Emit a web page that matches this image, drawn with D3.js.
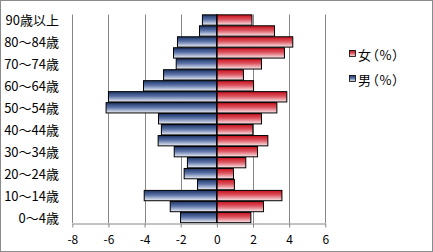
<!DOCTYPE html>
<html>
<head>
<meta charset="utf-8">
<script src="https://cdn.jsdelivr.net/npm/d3@7"></script>
<style>
  html, body { margin: 0; padding: 0; background: #fff; }
  svg { display: block; }
  text { font-family: "Noto Sans CJK JP", "Noto Sans", sans-serif; fill: #000; }
</style>
</head>
<body>
<svg id="chart" width="433" height="252"></svg>
<script>
// age groups, bottom to top
var ages = ['0〜4歳', '5〜9歳', '10〜14歳', '15〜19歳', '20〜24歳', '25〜29歳',
    '30〜34歳', '35〜39歳', '40〜44歳', '45〜49歳', '50〜54歳', '55〜59歳',
    '60〜64歳', '65〜69歳', '70〜74歳', '75〜79歳', '80〜84歳', '85〜89歳', '90歳以上'];

// 男 (%) drawn as negative values
var male = [-2.01, -2.58, -4.02, -1.07, -1.81, -1.63, -2.36, -3.25, -3.07, -3.23,
    -6.13, -6.0, -4.06, -2.95, -2.25, -2.40, -2.18, -0.96, -0.80];
// 女 (%)
var female = [1.88, 2.58, 3.6, 0.97, 0.92, 1.60, 2.25, 2.82, 1.99, 2.47,
    3.32, 3.87, 2.03, 1.47, 2.47, 3.74, 4.2, 3.19, 1.94];

var xTicks = [-8, -6, -4, -2, 0, 2, 4, 6];
var legendItems = ['女（%）', '男（%）'];

var svg = d3.select('#chart');
var W = 433, H = 252;
var plot = { left: 72.3, right: 325.3, top: 14.5, bottom: 223 };

// outer frame
svg.append('rect')
    .attr('x', 0.5).attr('y', 0.5)
    .attr('width', W - 1).attr('height', H - 1)
    .attr('fill', '#fff').attr('stroke', '#8c8c8c');

// gradients: dark on top, fading towards the bottom
var defs = svg.append('defs');
function grad(id, dark, mid, light) {
    var g = defs.append('linearGradient').attr('id', id)
        .attr('x1', 0).attr('y1', 0).attr('x2', 0).attr('y2', 1);
    g.append('stop').attr('offset', '0%').attr('stop-color', dark);
    g.append('stop').attr('offset', '45%').attr('stop-color', mid);
    g.append('stop').attr('offset', '100%').attr('stop-color', light);
}
grad('gMale', '#1c3466', '#5a72a6', '#eef0f8');
grad('gFemale', '#c8101c', '#dc5560', '#fbeaec');

var x = d3.scaleLinear().domain([-8, 6]).range([plot.left, plot.right]);
var y = d3.scaleBand().domain(ages.slice().reverse())
    .range([plot.top, plot.bottom]).paddingInner(0.06).paddingOuter(0.03);

// vertical gridlines
svg.append('g').selectAll('line')
    .data(xTicks)
    .enter().append('line')
    .attr('x1', d => Math.round(x(d)) + 0.5).attr('x2', d => Math.round(x(d)) + 0.5)
    .attr('y1', plot.top).attr('y2', plot.bottom)
    .attr('stroke', '#868686').attr('stroke-width', 1);

// bars
var bars = svg.append('g');
bars.selectAll('.m')
    .data(male)
    .enter().append('rect')
    .attr('class', 'm')
    .attr('x', d => x(d))
    .attr('y', (d, i) => y(ages[i]))
    .attr('width', d => x(0) - x(d))
    .attr('height', y.bandwidth())
    .attr('fill', 'url(#gMale)')
    .attr('stroke', '#000').attr('stroke-width', 1);

bars.selectAll('.f')
    .data(female)
    .enter().append('rect')
    .attr('class', 'f')
    .attr('x', x(0))
    .attr('y', (d, i) => y(ages[i]))
    .attr('width', d => x(d) - x(0))
    .attr('height', y.bandwidth())
    .attr('fill', 'url(#gFemale)')
    .attr('stroke', '#000').attr('stroke-width', 1);

// category axis at zero
svg.append('line')
    .attr('x1', x(0)).attr('x2', x(0))
    .attr('y1', plot.top).attr('y2', plot.bottom)
    .attr('stroke', '#000').attr('stroke-width', 1.2);

// value axis at the bottom
var xAxis = svg.append('g')
    .attr('transform', 'translate(0,' + (plot.bottom + 0.5) + ')')
    .call(d3.axisBottom(x).tickValues(xTicks).tickSize(4).tickSizeOuter(0)
        .tickFormat(d3.format('d')));
xAxis.select('.domain').attr('stroke', '#868686');
xAxis.selectAll('.tick line').attr('stroke', '#868686');
xAxis.selectAll('.tick text')
    .attr('y', 12)
    .style('font-size', '12px')
    .style('font-family', '"Noto Sans CJK JP", sans-serif')
    .text(d => d < 0 ? '-' + Math.abs(d) : d);

// category labels, every other group
svg.append('g').selectAll('text')
    .data(ages.filter((a, i) => i % 2 === 0))
    .enter().append('text')
    .attr('x', 59)
    .attr('y', d => y(d) + y.bandwidth() / 2)
    .attr('text-anchor', 'end')
    .attr('dominant-baseline', 'central')
    .style('font-size', '13px')
    .text(d => d);

// legend
var legend = svg.append('g');
legendItems.forEach(function (name, i) {
    var ly = 54 + i * 25;
    legend.append('rect')
        .attr('x', 349.5).attr('y', ly - 3.5)
        .attr('width', 6).attr('height', 6)
        .attr('fill', i === 0 ? 'url(#gFemale)' : 'url(#gMale)')
        .attr('stroke', '#000').attr('stroke-width', 0.8);
    legend.append('text')
        .attr('x', 358).attr('y', ly)
        .attr('dominant-baseline', 'central')
        .style('font-size', '13px')
        .style('letter-spacing', '1px')
        .style('font-feature-settings', '"palt"')
        .text(name);
});
</script>
</body>
</html>
